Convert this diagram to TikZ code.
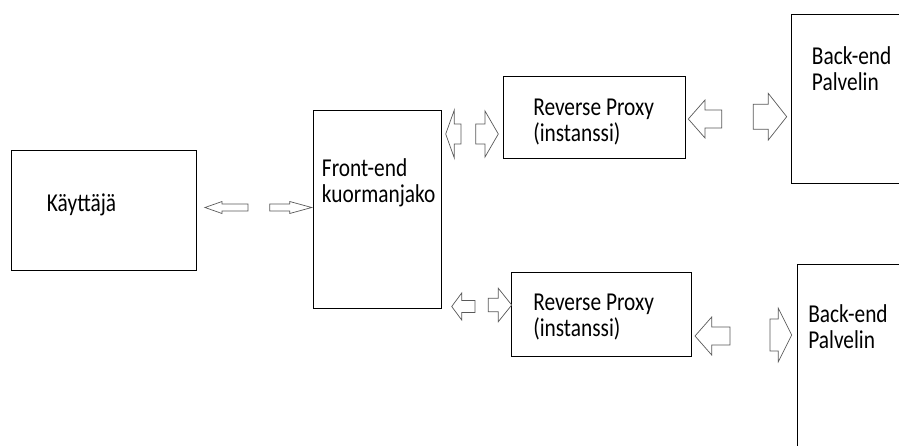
\documentclass[tikz,border=0pt]{standalone}
\usepackage{fontspec}
\setmainfont{Carlito}[FakeStretch=0.83]
\begin{document}
\begin{tikzpicture}[x=0.25mm,y=-0.25mm]

\newcommand{\px}{0.25mm}

\tikzstyle{laatikko}=[draw,line width=0.6pt,inner sep=0]
\tikzstyle{teksti}=[anchor=base west,inner sep=0,align=left,font=\fontsize{18.3}{18.4}\selectfont]
\tikzstyle{nuoli}=[draw=black!65,line width=0.5pt,line join=miter]

\useasboundingbox (0,0) rectangle (899,445);
\clip (0,0) rectangle (899,445);

% laatikko: nimi, vasen, yla, oikea, ala
\newcommand{\laatikko}[5]{
    \node[laatikko,minimum width={(#4-#2)*\px},minimum height={(#5-#3)*\px}] (#1) at ({(#2+#4)/2},{(#3+#5)/2}) {};
}

% nuoli: karki x, karki y, suunta, pituus, karjen pituus, karjen puolileveys, varren puolileveys
\newcommand{\nuoli}[7]{
    \draw[nuoli] ({#1},{#2}) -- ++({-(#3)*(#5)},{-(#6)}) -- ++(0,{(#6)-(#7)})
        -- ++({-(#3)*((#4)-(#5))},0) -- ++(0,{2*(#7)}) -- ++({(#3)*((#4)-(#5))},0)
        -- ++(0,{(#6)-(#7)}) -- cycle;
}

\laatikko{kayttaja}{11.7}{150}{196}{270}
\laatikko{frontend}{313.5}{110}{441.5}{308}
\laatikko{proxyA}{503}{76}{685}{158}
\laatikko{proxyB}{511.5}{272}{691.5}{356.5}
\laatikko{backendA}{791.7}{14}{920}{183.3}
\laatikko{backendB}{797.3}{264}{920}{470}

% monirivisen tekstin base = viimeisen rivin perusviiva
\node[teksti] (kayttajateksti) at (46.7,211.7) {Käyttäjä};
\node[teksti] (frontendteksti) at (321.7,202.5) {Front-end\\kuormanjako};
\node[teksti] (proxyAteksti) at (533,141) {Reverse Proxy\\(instanssi)};
\node[teksti] (proxyBteksti) at (533,336) {Reverse Proxy\\(instanssi)};
\node[teksti] (backendAteksti) at (811.7,90) {Back-end\\Palvelin};
\node[teksti] (backendBteksti) at (808,348) {Back-end\\Palvelin};

\nuoli{205}{207.5}{-1}{43}{17}{6}{3.5}
\nuoli{311.7}{207.5}{1}{42}{22}{6}{3.5}

\nuoli{445.7}{134}{-1}{15.3}{8.6}{24}{10}
\nuoli{498.3}{134}{1}{22.6}{13.3}{23}{10}

\nuoli{451.7}{306.5}{-1}{23.3}{10}{13.5}{6}
\nuoli{511.7}{305}{1}{23.4}{13.4}{16.7}{6.7}

\nuoli{688.3}{119}{-1}{33.4}{16.7}{19}{9}
\nuoli{786.7}{116.7}{1}{33.4}{18.4}{23.3}{12.5}

\nuoli{695}{336}{-1}{35}{16.7}{19}{9}
\nuoli{791.7}{335}{1}{21.7}{13.4}{26.7}{16}

\end{tikzpicture}
\end{document}
